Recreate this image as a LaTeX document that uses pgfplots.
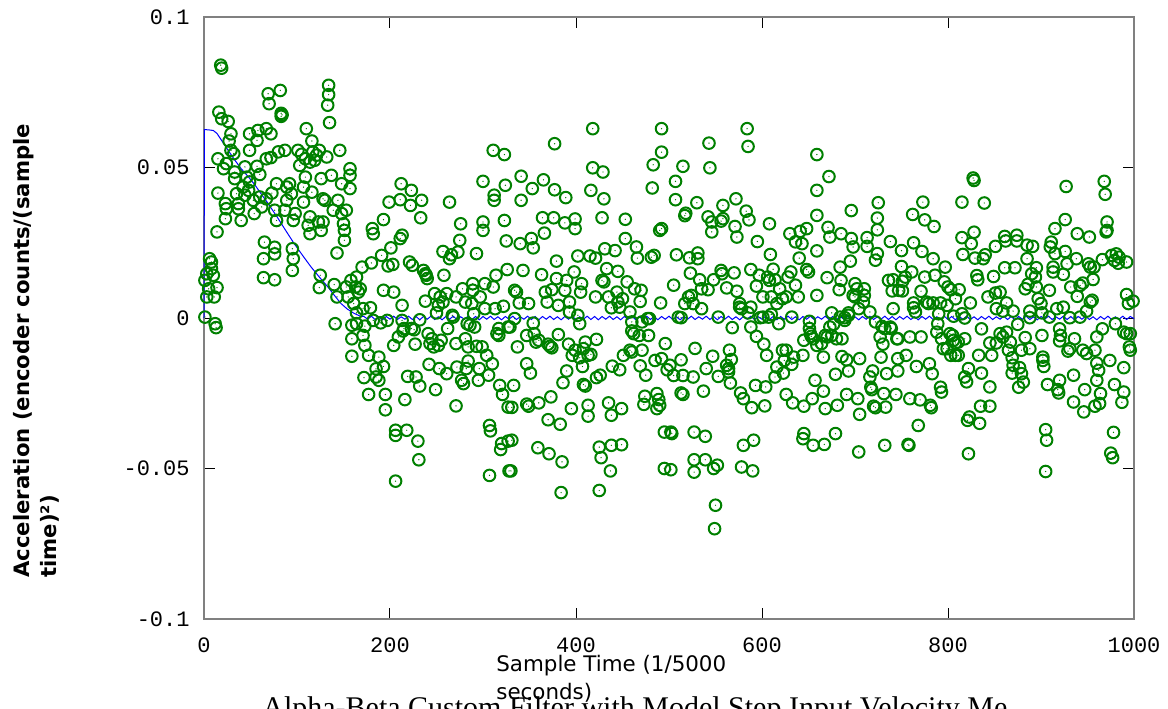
\documentclass[border=0pt]{standalone}
\usepackage{fontspec}
\setmainfont{DejaVu Sans}
\newfontfamily\ticfont{Liberation Mono}
\newfontfamily\titlefont{Liberation Serif}
\usepackage{pgfplots}
\pgfplotsset{compat=1.18}

\definecolor{octgreen}{RGB}{0,128,0}
\definecolor{axgray}{RGB}{128,128,128}

% ring with a dot in the middle
\pgfdeclareplotmark{ringdot}{%
  \pgfpathcircle{\pgfpointorigin}{\pgfplotmarksize}\pgfusepathqstroke
  \pgfpathcircle{\pgfpointorigin}{0.35pt}\pgfusepathqfill}

\begin{document}
\begin{tikzpicture}
\begin{axis}[
    name=ax,
    scale only axis,
    width=465pt, height=301pt,
    xmin=0, xmax=1000, ymin=-0.1, ymax=0.1,
    enlargelimits=false,
    clip=false,
    xtick={0,200,400,600,800,1000},
    xticklabels={0,200,400,600,800,1000},
    ytick={-0.1,-0.05,0,0.05,0.1},
    yticklabels={-0.1,-0.05,0,0.05,0.1},
    every tick label/.append style={font=\ticfont\fontsize{11}{13}\selectfont, inner sep=0pt},
    xticklabel shift=9pt,
    yticklabel shift=7pt,
    tick align=inside,
    major tick length=5.5pt,
    tick style={black, line width=0.5pt},
    axis line style={axgray, line width=1pt},
  ]

% measured acceleration samples
\addplot[only marks, mark=ringdot, mark size=2.9pt, color=octgreen, line width=1pt] coordinates {
(18,0.084)(19,0.083)
(69,0.0745)(82,0.0756)(70,0.0712)
(83,0.068)(84,0.0675)(83,0.067)
(134,0.0773)(134,0.0742)(133,0.0707)(135,0.0649)
(16,0.0684)(19,0.0662)(26,0.0653)
(110,0.0629)
(29,0.0612)(27,0.0588)
(49,0.0612)(58,0.0623)(67,0.0629)(72,0.0612)(57,0.059)
(116,0.0588)
(29,0.0557)(49,0.0557)(32,0.0546)
(15,0.0529)(24,0.0513)(21,0.0496)
(67,0.0529)(72,0.0533)(80,0.0552)(87,0.0557)
(101,0.0557)(105,0.0544)(103,0.0507)(109,0.0529)(114,0.0518)(117,0.0552)(121,0.0541)(119,0.0524)(124,0.0557)
(132,0.0535)(146,0.0557)
(33,0.0485)(44,0.0502)(57,0.0504)(33,0.0463)(46,0.0468)(60,0.0477)(49,0.0452)(42,0.0435)(48,0.0424)(35,0.0413)(44,0.0408)(53,0.0391)(60,0.0402)(67,0.0396)(37,0.038)(37,0.0363)(24,0.0363)(23,0.033)(40,0.0324)(54,0.0347)(62,0.0369)(15,0.0415)(23,0.038)
(78,0.0446)(73,0.0415)(78,0.0324)(76,0.0358)
(89,0.0435)(92,0.0446)(94,0.0413)(89,0.0391)(87,0.0358)(98,0.0347)(96,0.0324)
(109,0.0468)(107,0.0435)(107,0.0385)(116,0.0418)
(126,0.0463)(137,0.0474)(128,0.0396)(130,0.0391)(144,0.0391)
(148,0.0446)(157,0.0496)(157,0.0474)(157,0.043)
(139,0.0358)(148,0.0347)(153,0.0358)(150,0.0313)(151,0.0291)(151,0.0258)(143,0.0216)
(114,0.0336)(112,0.0308)(114,0.028)(123,0.0319)(128,0.0319)(126,0.0291)
(14,0.0286)
(65,0.0252)(64,0.0197)(76,0.0235)(76,0.0213)
(95,0.023)(96,0.0197)(95,0.0158)(64,0.0134)(76,0.0127)
(125,0.0142)(124,0.0101)
(140,0.0111)(143,0.007)(153,0.0103)(158,0.0125)(155,0.007)(161,0.0048)
(141,-0.0019)
(159,-0.0024)(159,-0.0069)(159,-0.0127)
(6,0.0197)(8,0.0186)(8,0.0164)(3,0.0147)(10,0.0142)(1,0.0125)(5,0.0097)(14,0.0101)(3,0.007)(11,0.007)(1,0.0003)(12,-0.0019)(13,-0.0032)
(311,0.0557)(323,0.0543)
(300,0.0454)(324,0.0441)(312,0.0408)(312,0.0391)
(212,0.0446)(223,0.0424)(199,0.0385)(211,0.0393)(222,0.0374)(234,0.0391)(233,0.0333)(264,0.0385)
(193,0.0327)(181,0.0297)(182,0.028)
(276,0.0313)(300,0.0319)(300,0.0291)(323,0.0324)(325,0.0256)
(213,0.0275)(211,0.0264)(201,0.0233)(191,0.0208)(275,0.0258)(293,0.0214)
(257,0.0221)(266,0.021)(264,0.0197)(273,0.0219)
(170,0.0169)(180,0.0183)(198,0.0173)(203,0.0178)(221,0.0186)(224,0.0175)(236,0.0158)(239,0.0142)(240,0.0131)(238,0.0147)
(258,0.0142)
(326,0.0161)(314,0.0142)(311,0.0103)(302,0.0114)(289,0.0114)(289,0.0092)(278,0.0097)(271,0.007)(261,0.0081)
(164,0.0136)(163,0.0103)(166,0.0086)(168,0.0097)(193,0.0092)(204,0.0086)
(248,0.0081)(254,0.007)(257,0.0053)(238,0.0056)(252,0.0042)
(281,0.0053)(288,0.0048)(290,0.0014)(302,0.0031)(297,0.007)(313,0.0031)(322,0.0039)
(171,0.0031)(179,0.0034)(164,0.0017)(213,0.0042)(250,0.0017)(268,0.0003)(267,0.0009)
(164,-0.0019)(173,-0.0027)(182,-0.0008)(190,-0.0016)(197,-0.0008)(213,-0.0008)(232,-0.0006)(215,-0.0035)(214,-0.0043)(223,-0.0035)(226,-0.0039)(283,-0.0019)(286,-0.0024)(291,-0.003)(317,-0.0035)(315,-0.0052)(317,-0.0058)(327,-0.003)
(171,-0.0058)(173,-0.0091)
(204,-0.0091)(209,-0.0063)(227,-0.0087)(241,-0.0052)(245,-0.0069)(243,-0.0085)(247,-0.0096)(252,-0.0091)(255,-0.0074)(262,-0.0035)(271,-0.0085)(281,-0.0069)(284,-0.0096)(293,-0.0094)(299,-0.0096)
(177,-0.0124)(188,-0.013)(193,-0.0161)(185,-0.0169)(185,-0.0196)(188,-0.0207)
(242,-0.0154)(253,-0.0168)(261,-0.0185)(272,-0.0163)(284,-0.0143)(282,-0.0168)(296,-0.0168)(304,-0.0124)(310,-0.0152)(306,-0.019)(295,-0.0207)(277,-0.0207)(279,-0.0218)
(172,-0.0198)(177,-0.0254)(195,-0.0254)(195,-0.0305)
(219,-0.0194)(228,-0.0196)(232,-0.0226)(249,-0.0238)(216,-0.0271)
(318,-0.0224)(321,-0.0254)(327,-0.0296)
(271,-0.0292)
(206,-0.0373)(206,-0.039)(218,-0.0373)(230,-0.0409)(231,-0.0471)
(307,-0.0357)(308,-0.0375)(320,-0.0417)(319,-0.0437)(327,-0.0409)(307,-0.0523)(328,-0.0508)
(206,-0.0542)
(418,0.0629)(377,0.0579)(492,0.0629)(492,0.0551)(483,0.0509)(418,0.0499)(429,0.0485)(482,0.0432)
(341,0.0471)(365,0.0459)(353,0.043)(377,0.0426)(389,0.04)(416,0.0424)(430,0.0396)(341,0.0391)
(364,0.0333)(376,0.0333)(388,0.0316)(399,0.0329)(399,0.0297)(428,0.0333)(453,0.0328)(366,0.0282)(453,0.0264)(492,0.0297)(490,0.0291)
(340,0.0247)(352,0.0264)(354,0.0233)(402,0.0206)(415,0.0206)(421,0.0199)(431,0.023)(442,0.0224)(465,0.0236)(466,0.0199)(481,0.0202)(484,0.0208)
(379,0.0189)(343,0.0158)(363,0.0144)(398,0.0153)(433,0.0164)(445,0.0155)(430,0.012)(428,0.0125)
(379,0.0131)(390,0.0125)(406,0.0114)(388,0.0092)(405,0.0086)(334,0.0092)(336,0.0086)
(367,0.0086)(374,0.0094)(369,0.0053)(421,0.007)(435,0.007)(444,0.0086)(455,0.012)(463,0.0097)(470,0.0092)(469,0.0055)(445,0.0053)(447,0.0036)(438,0.0034)(450,0.0064)
(339,0.005)(349,0.0048)(381,0.0042)(393,0.0053)(393,0.002)(402,0.0009)(458,0.002)(491,0.005)
(334,-0.0002)(329,-0.003)(354,-0.0017)(460,-0.0013)(471,-0.0013)(477,-0.0002)(479,-0.0002)(404,-0.0019)
(347,-0.0058)(355,-0.0052)(357,-0.008)(360,-0.0074)(381,-0.0055)(392,-0.0087)(410,-0.008)(422,-0.0071)(462,-0.0052)(468,-0.0058)(478,-0.0058)(460,-0.0043)(337,-0.0096)(372,-0.0094)(374,-0.0099)(370,-0.0087)
(396,-0.0124)(404,-0.0132)(399,-0.0107)(408,-0.0102)(413,-0.0124)(416,-0.0121)(407,-0.0161)(451,-0.0124)(458,-0.0107)(460,-0.0113)(471,-0.0107)(485,-0.0141)(492,-0.0135)(496,-0.0085)
(347,-0.0152)(351,-0.0183)(390,-0.0176)(386,-0.0215)(439,-0.016)(447,-0.0172)(469,-0.0159)(475,-0.019)(422,-0.0198)(426,-0.019)(408,-0.0221)(410,-0.0226)
(333,-0.0224)(373,-0.0262)(360,-0.0282)(349,-0.0293)(347,-0.0286)(331,-0.0297)(395,-0.0301)(413,-0.029)(413,-0.0326)(435,-0.0282)(438,-0.0323)(449,-0.0301)(474,-0.026)(473,-0.0287)(487,-0.0251)(489,-0.0271)(487,-0.0301)(490,-0.029)
(370,-0.0338)(383,-0.0353)
(331,-0.0406)(359,-0.0431)(371,-0.0451)(385,-0.0478)(425,-0.0429)(427,-0.0464)(438,-0.0423)(449,-0.0421)(437,-0.0508)(330,-0.0508)
(384,-0.058)(425,-0.0573)
(495,-0.0379)(495,-0.05)
(584,0.0629)(585,0.057)(543,0.0581)(544,0.0499)(515,0.0504)(659,0.0543)(659,0.0424)(659,0.0341)(507,0.0454)(507,0.0393)(530,0.0383)
(558,0.0374)(572,0.0396)(583,0.0355)(586,0.0326)(558,0.033)(556,0.0322)(518,0.0348)(517,0.034)(542,0.0336)(546,0.0319)(546,0.0286)(571,0.0304)(573,0.0269)(595,0.0254)(608,0.0313)(630,0.028)(641,0.0288)(648,0.0297)(636,0.0253)(643,0.0247)
(508,0.021)(522,0.02)(531,0.0216)(531,0.0197)(609,0.0211)(640,0.0199)(659,0.0223)
(523,0.0149)(533,0.0127)(556,0.0158)(557,0.0147)(570,0.015)(588,0.0161)(597,0.0142)(612,0.0162)(628,0.0136)(631,0.0153)(648,0.0161)(650,0.0153)
(505,0.0109)(548,0.0127)(562,0.01)(535,0.0097)(542,0.0094)(573,0.0089)(594,0.0106)(606,0.0136)(608,0.0125)(614,0.0127)(619,0.0097)(622,0.0064)(616,0.0048)(626,0.007)(636,0.0109)(639,0.007)(659,0.0075)
(524,0.0075)(521,0.007)(517,0.0048)(526,0.0048)(535,0.0031)(576,0.0048)(578,0.0031)(576,0.0036)(601,0.007)(610,0.007)(588,0.0036)
(510,0.0003)(513,0.0001)(553,0.0003)(585,0.0017)(598,0.0001)(601,0.0003)(607,0.0003)(610,0.0012)(632,0.0003)(618,-0.0019)(651,-0.0011)
(568,-0.0032)(588,-0.003)(594,-0.0061)(602,-0.0087)(651,-0.0035)(652,-0.0052)(653,-0.0061)(655,-0.0069)(645,-0.0074)(659,-0.0091)
(528,-0.0101)(513,-0.0139)(501,-0.0157)(498,-0.0172)(505,-0.0191)(515,-0.0191)(526,-0.0196)(540,-0.0168)(547,-0.0127)(565,-0.0107)(567,-0.0138)(562,-0.0157)(564,-0.0168)(564,-0.0179)(553,-0.0194)(566,-0.0216)(605,-0.0124)(622,-0.0107)(626,-0.0107)(624,-0.0141)(634,-0.013)(632,-0.0154)(644,-0.0124)(616,-0.0163)(614,-0.0196)(623,-0.0183)
(513,-0.0249)(515,-0.0254)(537,-0.0243)(577,-0.0249)(580,-0.0268)(589,-0.0298)(593,-0.0224)(604,-0.0229)(603,-0.0292)(626,-0.0254)(633,-0.0282)(645,-0.0293)(657,-0.0207)(654,-0.0268)
(502,-0.0379)(503,-0.0384)(527,-0.0379)(539,-0.0393)(580,-0.0423)(591,-0.0406)(645,-0.0384)(644,-0.0401)(655,-0.0423)
(502,-0.0504)(527,-0.0471)(527,-0.0512)(539,-0.0471)(548,-0.05)(552,-0.0489)(578,-0.0495)(590,-0.0508)
(550,-0.0622)(549,-0.07)
(672,0.047)
(725,0.0383)(773,0.0385)(815,0.0385)(696,0.0357)(724,0.0332)(762,0.0344)(775,0.0326)(785,0.0304)(724,0.0293)
(671,0.0301)(673,0.0269)(685,0.028)(696,0.0264)(698,0.0236)(713,0.0267)(713,0.0238)(738,0.0254)(763,0.025)(772,0.0221)(750,0.0224)(724,0.0214)(722,0.0192)(784,0.0197)(797,0.0169)(815,0.0267)(816,0.0211)(825,0.0247)
(684,0.0169)(695,0.0189)(670,0.0134)(685,0.0125)(683,0.0094)(700,0.0114)(702,0.0097)(700,0.007)(710,0.0097)(710,0.0075)(709,0.0053)(698,0.0075)(716,0.002)(704,0.0031)(693,0.0017)
(736,0.0125)(741,0.0127)(750,0.0171)(754,0.0136)(761,0.0153)(751,0.0122)(740,0.009)(747,0.0092)(751,0.009)(771,0.0089)(777,0.0053)(775,0.0136)(786,0.0142)(796,0.012)(800,0.0103)(803,0.0094)(808,0.0064)(812,0.0094)
(741,0.0031)(763,0.005)(763,0.0034)(765,0.002)(779,0.0048)(784,0.005)(792,0.005)(799,0.0042)(790,0.0014)(806,0.0006)(818,0)(824,0.005)(815,0.0014)
(675,0.0017)(684,0.0003)(689,0.0001)(693,0.0009)(689,-0.0008)(677,-0.0021)(673,-0.003)(668,-0.0058)(675,-0.0058)(680,-0.0069)(686,-0.0069)(670,-0.0063)(664,-0.0085)(666,-0.013)
(722,-0.0013)(729,-0.0028)(732,-0.0035)(738,-0.003)(739,-0.0035)(727,-0.0063)(730,-0.0087)(745,-0.0069)(746,-0.0069)(759,-0.0063)(771,-0.0063)(789,-0.0019)(788,-0.0047)(793,-0.0069)(802,-0.0052)(805,-0.0058)(806,-0.0074)(808,-0.0083)(811,-0.008)(818,-0.0069)(795,-0.0102)(799,-0.0102)(803,-0.0124)(808,-0.0124)(811,-0.0124)
(686,-0.0128)(691,-0.0139)(705,-0.0135)(728,-0.013)(746,-0.0135)(755,-0.0124)(766,-0.0161)(780,-0.0152)(783,-0.0185)(746,-0.0176)(734,-0.0185)(719,-0.0176)(693,-0.0176)(679,-0.0187)(822,-0.0168)(818,-0.0196)(820,-0.0212)
(666,-0.0243)(691,-0.0254)(703,-0.0268)(716,-0.0196)(717,-0.023)(718,-0.0238)(731,-0.0251)(744,-0.0254)(759,-0.0268)(770,-0.0272)(781,-0.029)(782,-0.0298)(792,-0.023)(793,-0.0246)(823,-0.0329)(821,-0.034)
(668,-0.0301)(681,-0.029)(720,-0.0293)(722,-0.0298)(733,-0.0296)(705,-0.032)
(768,-0.0357)(679,-0.0384)(667,-0.042)(704,-0.0445)(732,-0.0423)(757,-0.042)(758,-0.0423)(822,-0.0451)
(827,0.0465)(828,0.0457)
(839,0.0382)(927,0.0437)(968,0.0454)(969,0.0411)(926,0.0327)(915,0.0297)(971,0.0319)(971,0.0291)(970,0.0286)(939,0.028)(952,0.0269)
(828,0.0285)(829,0.0199)(840,0.021)(838,0.0197)(851,0.0238)(861,0.0271)(862,0.0256)(874,0.0275)(874,0.0256)(885,0.0242)(891,0.0238)(885,0.0197)(911,0.0252)(910,0.0236)(915,0.0214)(926,0.0221)(928,0.018)(938,0.0197)(951,0.018)(953,0.0169)(957,0.0169)(966,0.0194)(976,0.0208)(981,0.0213)(984,0.0202)(979,0.0191)(983,0.0182)(992,0.0186)
(831,0.0141)(832,0.0127)(849,0.0138)(861,0.0167)(872,0.0167)(890,0.0147)(894,0.0136)(895,0.0167)(886,0.0112)(883,0.0097)(895,0.0103)(909,0.0092)(913,0.0169)(913,0.0153)(924,0.0145)(932,0.0103)(939,0.0072)(942,0.0108)(945,0.0116)(956,0.0128)(955,0.0059)(953,0.0053)(992,0.0078)(994,0.0048)(999,0.0056)
(843,0.007)(851,0.0083)(856,0.0086)(863,0.005)(852,0.0031)(859,0.0023)(870,0.0023)(875,-0.0021)(888,0.0023)(888,0.0001)(897,0.0064)(900,0.0048)(901,0.0017)(917,0.0031)(924,0.0036)(909,0.0003)(931,0.0001)(942,0.0003)(949,0.0023)
(836,-0.0036)(845,-0.0083)(847,-0.0124)(852,-0.0083)(856,-0.0052)(859,-0.0063)(863,-0.0047)(867,-0.008)(865,-0.0107)(869,-0.0132)(879,-0.0107)(883,-0.0065)(888,-0.0102)(901,-0.0058)(902,-0.013)(902,-0.0141)(903,-0.0161)(920,-0.0036)(921,-0.0058)(920,-0.0076)(929,-0.011)(931,-0.0102)(936,-0.0069)(945,-0.0107)(949,-0.0118)(958,-0.0107)(960,-0.0063)(966,-0.0036)(974,-0.0141)(980,-0.0019)(989,-0.0047)(992,-0.0052)(996,-0.0052)(995,-0.0096)(996,-0.0107)(989,-0.0165)(960,-0.015)(962,-0.0174)
(833,-0.0124)(836,-0.0183)(845,-0.0229)(835,-0.0293)(845,-0.0293)(834,-0.035)(869,-0.0183)(870,-0.0157)(877,-0.0165)(879,-0.0185)(881,-0.0213)(876,-0.023)(907,-0.0221)(920,-0.0207)(918,-0.0238)(919,-0.0249)(935,-0.019)(947,-0.0238)(935,-0.0279)(946,-0.0312)(958,-0.0293)(964,-0.0251)(963,-0.0284)(960,-0.0207)(979,-0.0221)(989,-0.0246)(987,-0.028)(978,-0.038)
(905,-0.0371)(906,-0.0406)(905,-0.051)(975,-0.0449)(977,-0.0464)
};

% filter estimate
\addplot[color=blue, line width=0.5pt, no marks] coordinates {
(0,0)(0.5,0.0626)(5,0.0625)(10,0.0623)(14,0.0613)(20,0.0585)(26,0.0557)(33,0.0525)(40,0.0496)(48,0.0468)(55,0.0441)(62,0.041)(69,0.038)(79,0.0334)(88,0.029)(97,0.0247)(106,0.0208)(115,0.017)(124,0.0136)(133,0.0104)(140,0.0076)(147,0.0049)(154,0.003)(161,0.0016)(168,0.0006)
(172,0.0005)(176,-0.0004)(180,0.0006)(184,-0.0005)(188,0.0004)(192,-0.0006)(196,0.0005)(200,-0.0004)
(204,0.0006)(208,-0.0005)(212,0.0004)(216,-0.0004)(220,0.0006)(224,-0.0005)(228,0.0005)(232,-0.0006)
(236,0.0005)(240,-0.0004)(244,0.0006)(248,-0.0005)(252,0.0004)(256,-0.0006)(260,0.0005)(264,-0.0004)
(268,0.0006)(272,-0.0005)(276,0.0004)(280,-0.0004)(284,0.0006)(288,-0.0005)(292,0.0005)(296,-0.0006)
(300,0.0005)(304,-0.0004)(308,0.0006)(312,-0.0005)(316,0.0004)(320,-0.0006)(324,0.0005)(328,-0.0004)
(332,0.0006)(336,-0.0005)(340,0.0004)(344,-0.0004)(348,0.0006)(352,-0.0005)(356,0.0005)(360,-0.0006)
(364,0.0005)(368,-0.0004)(372,0.0006)(376,-0.0005)(380,0.0004)(384,-0.0006)(388,0.0005)(392,-0.0004)
(396,0.0006)(400,-0.0005)(404,0.0004)(408,-0.0004)(412,0.0006)(416,-0.0005)(420,0.0005)(424,-0.0006)
(428,0.0005)(432,-0.0004)(436,0.0006)(440,-0.0005)(444,0.0004)(448,-0.0006)(452,0.0005)(456,-0.0004)
(460,0.0006)(464,-0.0005)(468,0.0004)(472,-0.0004)(476,0.0006)(480,-0.0005)(484,0.0005)(488,-0.0006)
(492,0.0005)(496,-0.0004)(500,0.0006)(504,-0.0005)(508,0.0004)(512,-0.0006)(516,0.0005)(520,-0.0004)
(524,0.0006)(528,-0.0005)(532,0.0004)(536,-0.0004)(540,0.0006)(544,-0.0005)(548,0.0005)(552,-0.0006)
(556,0.0005)(560,-0.0004)(564,0.0006)(568,-0.0005)(572,0.0004)(576,-0.0006)(580,0.0005)(584,-0.0004)
(588,0.0006)(592,-0.0005)(596,0.0004)(600,-0.0004)(604,0.0006)(608,-0.0005)(612,0.0005)(616,-0.0006)
(620,0.0005)(624,-0.0004)(628,0.0006)(632,-0.0005)(636,0.0004)(640,-0.0006)(644,0.0005)(648,-0.0004)
(652,0.0006)(656,-0.0005)(660,0.0004)(664,-0.0004)(668,0.0006)(672,-0.0005)(676,0.0005)(680,-0.0006)
(684,0.0005)(688,-0.0004)(692,0.0006)(696,-0.0005)(700,0.0004)(704,-0.0006)(708,0.0005)(712,-0.0004)
(716,0.0006)(720,-0.0005)(724,0.0004)(728,-0.0004)(732,0.0006)(736,-0.0005)(740,0.0005)(744,-0.0006)
(748,0.0005)(752,-0.0004)(756,0.0006)(760,-0.0005)(764,0.0004)(768,-0.0006)(772,0.0005)(776,-0.0004)
(780,0.0006)(784,-0.0005)(788,0.0004)(792,-0.0004)(796,0.0006)(800,-0.0005)(804,0.0005)(808,-0.0006)
(812,0.0005)(816,-0.0004)(820,0.0006)(824,-0.0005)(828,0.0004)(832,-0.0006)(836,0.0005)(840,-0.0004)
(844,0.0006)(848,-0.0005)(852,0.0004)(856,-0.0004)(860,0.0006)(864,-0.0005)(868,0.0005)(872,-0.0006)
(876,0.0005)(880,-0.0004)(884,0.0006)(888,-0.0005)(892,0.0004)(896,-0.0006)(900,0.0005)(904,-0.0004)
(908,0.0006)(912,-0.0005)(916,0.0004)(920,-0.0004)(924,0.0006)(928,-0.0005)(932,0.0005)(936,-0.0006)
(940,0.0005)(944,-0.0004)(948,0.0006)(952,-0.0005)(956,0.0004)(960,-0.0006)(964,0.0005)(968,-0.0004)
(972,0.0006)(976,-0.0005)(980,0.0004)(984,-0.0004)(988,0.0006)(992,-0.0005)(996,0.0005)(1000,-0.0002)
};
\end{axis}

\node[anchor=north west, inner sep=0pt, rotate=90, align=left,
      font=\fontsize{10.6}{13.5}\selectfont\bfseries]
  at ([xshift=-95.5pt, yshift=20.5pt]ax.south west)
  {Acceleration (encoder counts/(sample\\time)²)};
\node[anchor=north west, inner sep=0pt, align=left,
      font=\fontsize{10.7}{14}\selectfont]
  at ([xshift=146pt, yshift=-18pt]ax.south west)
  {Sample Time (1/5000\\seconds)};
\node[anchor=north west, inner sep=0pt, align=left,
      font=\titlefont\fontsize{15}{18}\selectfont]
  at ([xshift=29pt, yshift=-38.5pt]ax.south west)
  {Alpha-Beta Custom Filter with Model Step Input Velocity Me\\asurement};

\pgfresetboundingbox
\path[use as bounding box] ([xshift=-102pt, yshift=-44.5pt]ax.south west)
  rectangle ([xshift=17pt, yshift=8.5pt]ax.north east);
\end{tikzpicture}
\end{document}
